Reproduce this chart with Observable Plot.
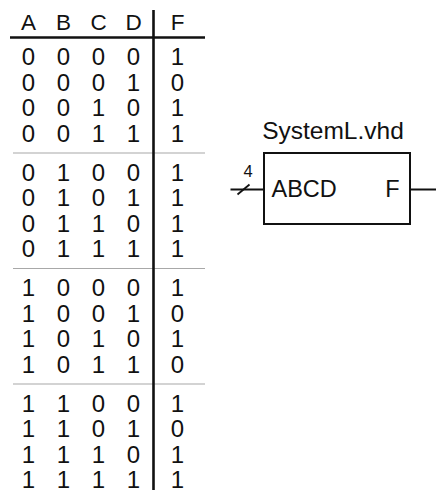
<!DOCTYPE html>
<html>
<head>
<meta charset="utf-8">
<script src="https://cdn.jsdelivr.net/npm/d3@7"></script>
<script src="https://cdn.jsdelivr.net/npm/@observablehq/plot@0.6"></script>
<style>
  html, body { margin: 0; padding: 0; background: #fff; }
  svg { display: block; }
</style>
</head>
<body>
<div id="chart"></div>
<script>
// ---- data ----
const headers = ["A", "B", "C", "D", "F"];
const colA = [0,0,0,0, 0,0,0,0, 1,1,1,1, 1,1,1,1];
const colB = [0,0,0,0, 1,1,1,1, 0,0,0,0, 1,1,1,1];
const colC = [0,0,1,1, 0,0,1,1, 0,0,1,1, 0,0,1,1];
const colD = [0,1,0,1, 0,1,0,1, 0,1,0,1, 0,1,0,1];
const colF = [1,0,1,1, 1,1,1,1, 1,0,1,0, 1,0,1,1];
const blockTitle = "SystemL.vhd";
const inputLabel = "ABCD";
const outputLabel = "F";
const busWidth = "4";

// ---- layout ----
const W = 436, H = 493;
const font = "Liberation Sans, Arial, Helvetica, sans-serif";
const colX = {A: 28, B: 63, C: 98, D: 133, F: 177};
const headerY = 22.5, headerLineY = 37, groupH = 115.5;
const rowY = i => 57 + (i % 4) * 25.5 + Math.floor(i / 4) * groupH;
const cols = {A: colA, B: colB, C: colC, D: colD, F: colF};

const cells = [];
for (const h of headers) cols[h].forEach((v, i) => cells.push({x: colX[h], y: rowY(i), t: String(v)}));
const heads = headers.map(h => ({x: colX[h], y: headerY, t: h}));
const seps = [1, 2, 3].map(g => headerLineY + g * groupH);

const box = {x1: 264, x2: 410, y1: 153, y2: 224};
const pinY = (box.y1 + box.y2) / 2 + 0.5;

const chart = Plot.plot({
  width: W, height: H,
  margin: 0,
  x: {domain: [0, W], range: [0, W], axis: null},
  y: {domain: [0, H], range: [0, H], axis: null},
  style: {fontFamily: font, background: "#fff"},
  marks: [
    // table
    Plot.ruleY(seps, {x1: 13, x2: 205, stroke: "#a8a8a8", strokeWidth: 1.2}),
    Plot.ruleY([headerLineY], {x1: 10, x2: 205, stroke: "#111", strokeWidth: 2.6}),
    Plot.ruleX([153], {y1: 10, y2: 490, stroke: "#111", strokeWidth: 2.6}),
    Plot.text(heads, {x: "x", y: "y", text: "t", fontSize: 22.5, fill: "#111", lineAnchor: "middle", textAnchor: "middle"}),
    Plot.text(cells, {x: "x", y: "y", text: "t", fontSize: 24, fill: "#111", lineAnchor: "middle", textAnchor: "middle"}),
    // block
    Plot.rect([box], {x1: "x1", x2: "x2", y1: "y1", y2: "y2", fill: "none", stroke: "#111", strokeWidth: 2}),
    Plot.link([{x1: 230, x2: box.x1, y1: pinY, y2: pinY}], {x1: "x1", x2: "x2", y1: "y1", y2: "y2", stroke: "#111", strokeWidth: 2}),
    Plot.link([{x1: 237, x2: 249, y1: pinY + 5, y2: pinY - 5}], {x1: "x1", x2: "x2", y1: "y1", y2: "y2", stroke: "#111", strokeWidth: 1.8}),
    Plot.link([{x1: box.x2, x2: W, y1: pinY, y2: pinY}], {x1: "x1", x2: "x2", y1: "y1", y2: "y2", stroke: "#111", strokeWidth: 2}),
    Plot.text([blockTitle], {x: 332.5, y: 131, text: d => d, fontSize: 24.5, fill: "#111", lineAnchor: "middle", textAnchor: "middle"}),
    Plot.text([inputLabel], {x: 271, y: pinY, text: d => d, fontSize: 23.5, fill: "#111", lineAnchor: "middle", textAnchor: "start"}),
    Plot.text([outputLabel], {x: 399, y: pinY, text: d => d, fontSize: 23.5, fill: "#111", lineAnchor: "middle", textAnchor: "end"}),
    Plot.text([busWidth], {x: 247.5, y: 171, text: d => d, fontSize: 16.5, fill: "#111", lineAnchor: "middle", textAnchor: "middle"})
  ]
});
document.getElementById("chart").appendChild(chart);
</script>
</body>
</html>
